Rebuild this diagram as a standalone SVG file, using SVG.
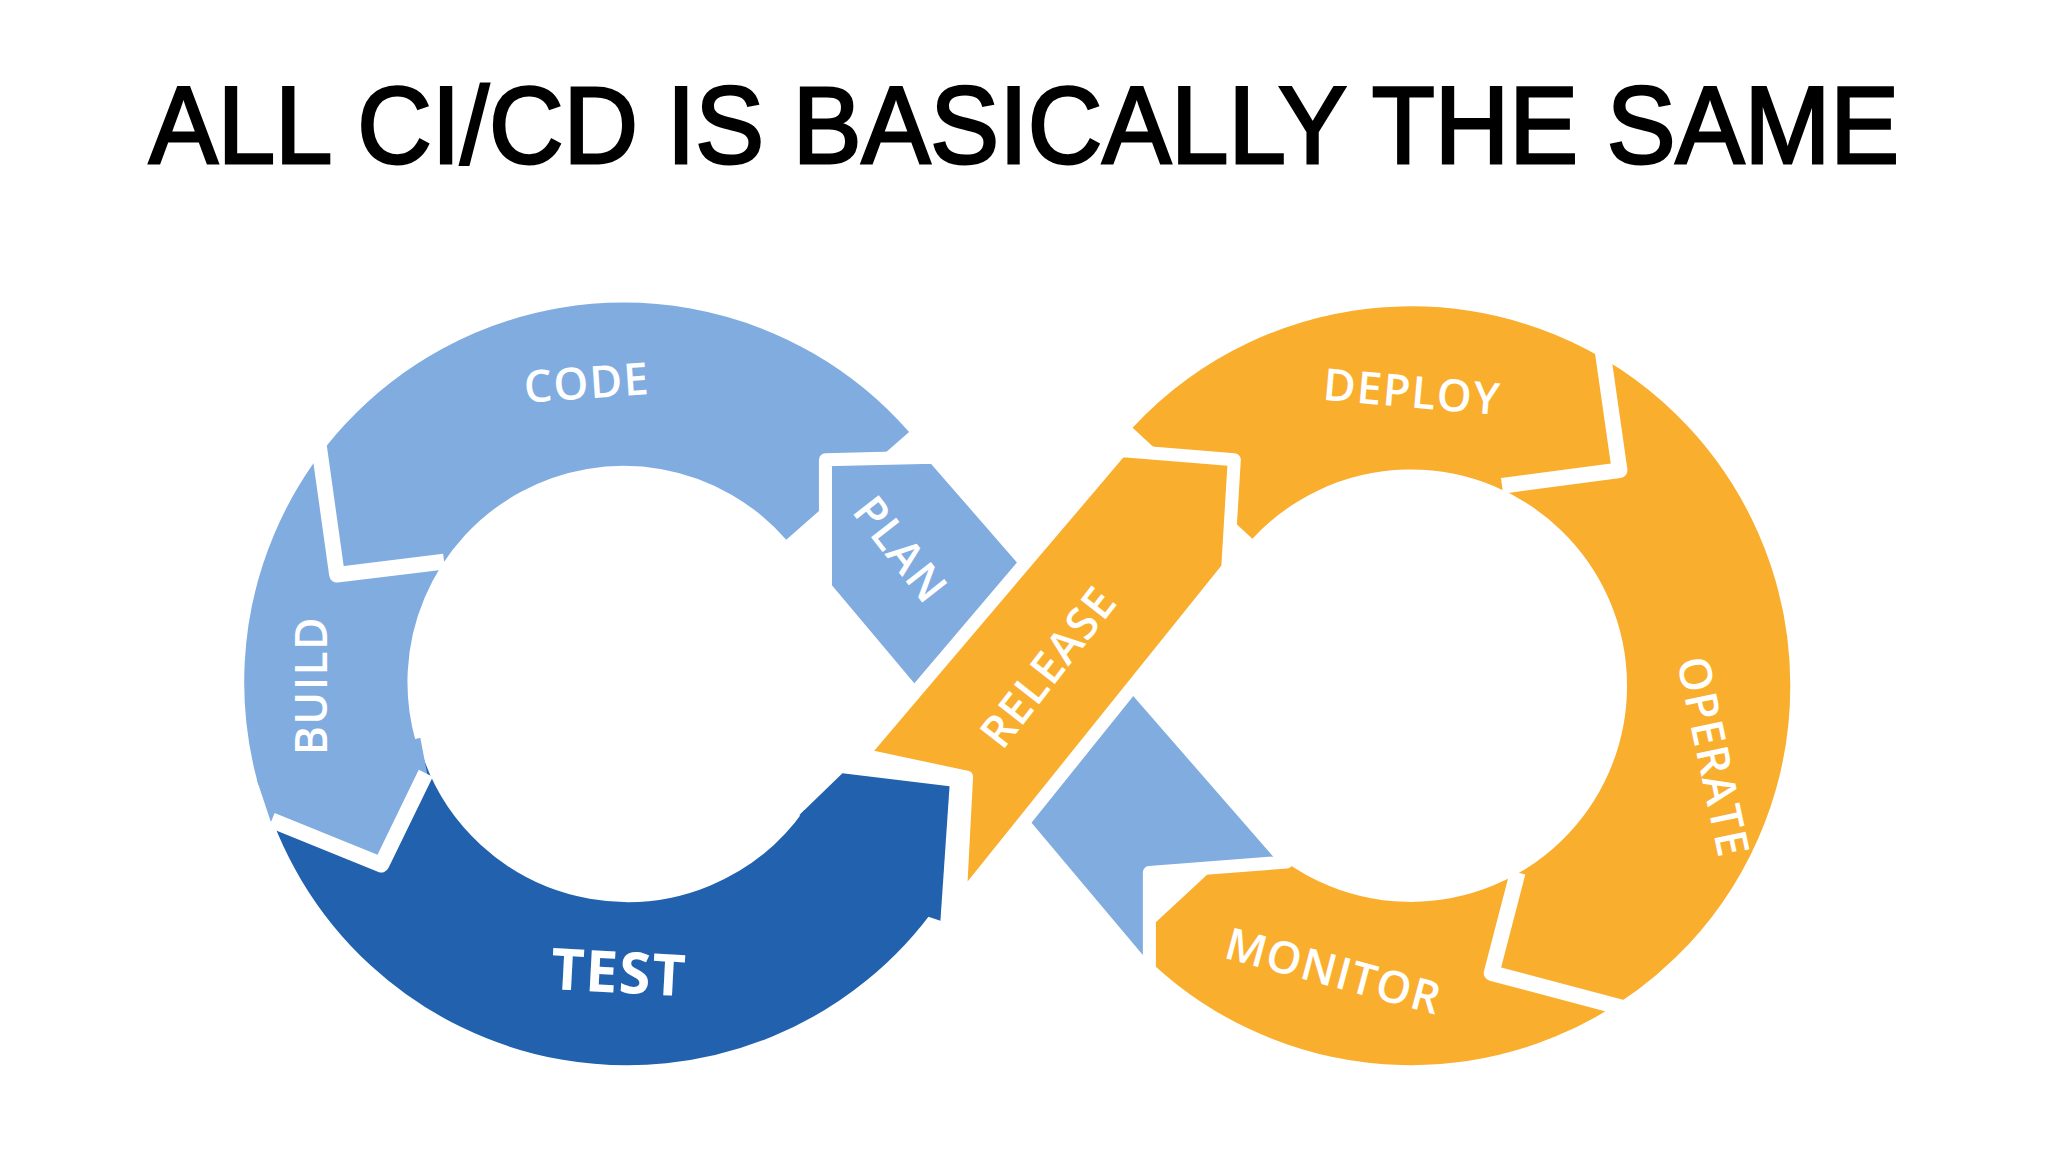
<svg xmlns="http://www.w3.org/2000/svg" width="2048" height="1152" viewBox="0 0 2048 1152">
<style>
.lb{fill:none;stroke:#80ace0;stroke-width:125}
.db{fill:none;stroke:#2161ad;stroke-width:125}
.or{fill:none;stroke:#f9ae2e;stroke-width:125}
.sep{stroke:#fff;stroke-width:12;fill:none;stroke-linejoin:round}
.lbl{fill:#fff;font-family:"Open Sans",sans-serif;font-weight:600;font-size:34px;text-anchor:middle;letter-spacing:1px}
</style>
<rect width="2048" height="1152" fill="#fff"/>
<g transform="scale(1.30612)">
<text x="784" y="125" font-family="Liberation Sans, sans-serif" font-size="84" text-anchor="middle" textLength="1340" lengthAdjust="spacingAndGlyphs" fill="#000" stroke="#000" stroke-width="2.2">ALL CI/CD IS BASICALLY THE SAME</text>
<g id="left-ring">
<path class="db" d="M667,656 A228,228 0 0 1 260,584"/>
<polygon points="612,624 645,592 727,602 720,705 705,700" fill="#2161ad"/>
<path class="lb" d="M258,584 A228,228 0 0 1 649,372"/>
<polygon points="198,598 208,628 292,662 326,592 321,566" fill="#80ace0" stroke="#80ace0" stroke-width="2"/>
</g>
<g id="right-ring">
<path class="or" d="M913,370 A228,228 0 1 1 913,680"/>
</g>
<g id="plan-band">
<polygon points="632,352 715,350 985,660 880,668 880,745 632,450" fill="#80ace0" stroke="#fff" stroke-width="10" stroke-linejoin="round"/>
</g>
<g id="release-band">
<polygon points="858,345 945,352 940,435 735,690 740,595 660,578" fill="#f9ae2e" stroke="#fff" stroke-width="10" stroke-linejoin="round"/>
</g>
<g id="connectors">
<polyline class="sep" points="244,340 258,440 340,430"/>
<polyline class="sep" points="208,628 292,662 326,592"/>
<polyline class="sep" points="1226,262 1240,360 1150,372"/>
<polyline class="sep" points="1162,668 1142,745 1244,772"/>
</g>
<g id="labels">
<text class="lbl" transform="translate(450,305) rotate(-4)">CODE</text>
<text class="lbl" transform="translate(250,525) rotate(-90)">BUILD</text>
<text class="lbl" transform="translate(680,428) rotate(52)">PLAN</text>
<text class="lbl" transform="translate(473,760) rotate(3)" style="font-size:44px;font-weight:700">TEST</text>
<text class="lbl" transform="translate(812,518) rotate(-52)">RELEASE</text>
<text class="lbl" transform="translate(1080,312) rotate(5)">DEPLOY</text>
<text class="lbl" transform="translate(1300,582) rotate(78)">OPERATE</text>
<text class="lbl" transform="translate(1018,755) rotate(15)">MONITOR</text>
</g>
</g>
</svg>
